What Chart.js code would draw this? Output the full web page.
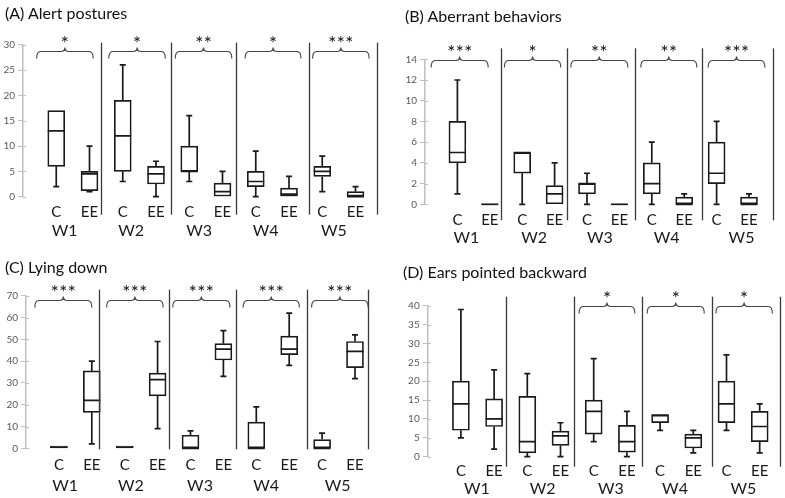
<!DOCTYPE html>
<html>
<head>
<meta charset="utf-8">
<script src="https://cdn.jsdelivr.net/npm/chart.js@4.4.1/dist/chart.umd.min.js"></script>
<style>
  body { margin: 0; background: #fff; width: 785px; height: 498px; position: relative; overflow: hidden; font-family: Lato, 'Open Sans', sans-serif; }
  .panel { position: absolute; }
  .panel canvas { display: block; }
  .titulo { position: absolute; font-size: 16px; color: #111; white-space: nowrap; z-index: 2; }
</style>
</head>
<body>
<div class="panel" style="left:0;top:0"><canvas id="cA" width="392" height="250"></canvas></div>
<div class="panel" style="left:392px;top:0"><canvas id="cB" width="393" height="250"></canvas></div>
<div class="panel" style="left:0;top:250px"><canvas id="cC" width="392" height="248"></canvas></div>
<div class="panel" style="left:392px;top:250px"><canvas id="cD" width="393" height="248"></canvas></div>

<div class="titulo" style="left:5px;top:3px">(A) Alert postures</div>
<div class="titulo" style="left:405px;top:6px">(B) Aberrant behaviors</div>
<div class="titulo" style="left:5px;top:257px">(C) Lying down</div>
<div class="titulo" style="left:403px;top:262px">(D) Ears pointed backward</div>

<script>
const SEMANAS = ['W1', 'W2', 'W3', 'W4', 'W5'];
const GRUPOS = ['C', 'EE'];

// cada caja: [min, q1, mediana, q3, max]
const ALERTA_C  = [[2, 6, 13, 17, 17], [3, 5, 12, 19, 26], [3, 5, 5, 10, 16], [0, 2, 3, 5, 9], [1, 4, 5, 6, 8]];
const ALERTA_EE = [[1, 1.2, 4.5, 5, 10], [0, 2.5, 4.5, 6, 7], [0, 0, 1, 2.7, 5], [0, 0, 0.5, 1.7, 4], [0, 0, 0, 1, 2]];
const ALERTA_SIG = ['*', '*', '**', '*', '***'];

const ABERR_C  = [[1, 4, 5, 8, 12], [0, 3, 5, 5, 5], [0, 1, 2, 2, 3], [0, 1, 2, 4, 6], [0, 2, 3, 6, 8]];
const ABERR_EE = [[0, 0, 0, 0, 0], [0, 0, 1, 1.8, 4], [0, 0, 0, 0, 0], [0, 0, 0, 0.7, 1], [0, 0, 0, 0.7, 1]];
const ABERR_SIG = ['***', '*', '**', '**', '***'];

const ECHADO_C  = [[0, 0, 0.5, 1, 1], [0, 0, 0.5, 1, 1], [0, 0, 0, 6, 8], [0, 0, 0, 12, 19], [0, 0, 0, 4, 7]];
const ECHADO_EE = [[2, 16.5, 22, 35.5, 40], [9, 24, 31.5, 34.5, 49], [33, 40.5, 45.5, 48, 54], [38, 43, 45.5, 51.5, 62], [32, 37, 44.5, 49, 52]];
const ECHADO_SIG = ['***', '***', '***', '***', '***'];

const OREJAS_C  = [[5, 7, 14, 20, 39], [0, 1, 4, 16, 22], [4, 6, 12, 15, 26], [7, 9, 11, 11, 11], [7, 9, 14, 20, 27]];
const OREJAS_EE = [[2, 8, 10, 15.3, 23], [0, 3, 5.5, 6.8, 9], [0, 1.2, 4, 8.3, 12], [1, 2.3, 5, 6, 7], [1, 4, 8, 12, 14]];
const OREJAS_SIG = [null, null, '*', '*', '*'];

const FUENTE = 'Lato, "Open Sans", sans-serif';
const ANCHO_CAJA = 17;

function intercalar(c, ee) {
  const out = [];
  c.forEach((v, i) => { out.push(v); out.push(ee[i]); });
  return out;
}

// bigotes, medianas, separadores y llaves de significancia
const cajasPlugin = {
  id: 'cajas',
  afterDatasetsDraw(chart, args, opts) {
    const ctx = chart.ctx;
    const sx = chart.scales.x;
    const sy = chart.scales.y;
    const area = chart.chartArea;
    const mitad = ANCHO_CAJA / 2;

    ctx.save();

    // marcas del eje y hacia dentro
    ctx.strokeStyle = '#bfbfbf';
    ctx.lineWidth = 1;
    sy.ticks.forEach(t => {
      const py = Math.round(sy.getPixelForValue(t.value)) + 0.5;
      ctx.beginPath();
      ctx.moveTo(area.left, py);
      ctx.lineTo(area.left + 3, py);
      ctx.stroke();
    });

    ctx.strokeStyle = '#1a1a1a';
    ctx.lineWidth = 1.7;
    opts.stats.forEach((s, i) => {
      const px = sx.getPixelForValue(i + 1);
      const [mn, q1, med, q3, mx] = s;
      ctx.beginPath();
      if (mx > q3) {
        ctx.moveTo(px, sy.getPixelForValue(q3));
        ctx.lineTo(px, sy.getPixelForValue(mx));
        ctx.moveTo(px - 3, sy.getPixelForValue(mx));
        ctx.lineTo(px + 3, sy.getPixelForValue(mx));
      }
      if (mn < q1) {
        ctx.moveTo(px, sy.getPixelForValue(q1));
        ctx.lineTo(px, sy.getPixelForValue(mn));
        ctx.moveTo(px - 3, sy.getPixelForValue(mn));
        ctx.lineTo(px + 3, sy.getPixelForValue(mn));
      }
      const ym = sy.getPixelForValue(med);
      ctx.moveTo(px - mitad, ym);
      ctx.lineTo(px + mitad, ym);
      ctx.stroke();
    });

    // separadores entre semanas
    ctx.strokeStyle = '#3a3a3a';
    ctx.lineWidth = 1.3;
    opts.divisores.forEach(v => {
      const px = Math.round(sx.getPixelForValue(v)) + 0.5;
      ctx.beginPath();
      ctx.moveTo(px, area.top + opts.divTop);
      ctx.lineTo(px, area.bottom + opts.divBot);
      ctx.stroke();
    });

    // llaves con asteriscos
    ctx.strokeStyle = '#444';
    ctx.lineWidth = 1.2;
    ctx.fillStyle = '#111';
    ctx.font = '19px ' + FUENTE;
    ctx.textAlign = 'center';
    ctx.textBaseline = 'alphabetic';
    opts.llaves.forEach((ll, i) => {
      const sig = opts.sig[i];
      if (!sig) return;
      const l = sx.getPixelForValue(ll[0]);
      const r = sx.getPixelForValue(ll[1]);
      const c = (l + r) / 2;
      const y = Math.round(area.top + opts.yLlave) + 0.5;
      ctx.beginPath();
      ctx.moveTo(l, y + 7);
      ctx.quadraticCurveTo(l, y, l + 4, y);
      ctx.lineTo(c - 4, y);
      ctx.quadraticCurveTo(c, y, c, y - 4);
      ctx.quadraticCurveTo(c, y, c + 4, y);
      ctx.lineTo(r - 4, y);
      ctx.quadraticCurveTo(r, y, r, y + 7);
      ctx.stroke();
      const n = sig.length;
      for (let k = 0; k < n; k++) {
        ctx.fillText('*', c + (k - (n - 1) / 2) * 8.5, y - 12 + 10);
      }
    });
    ctx.restore();
  }
};

function crearPanel(id, p) {
  const stats = intercalar(p.c, p.ee);
  const fx = 15;
  const fw = 16;
  // alto de cada eje x para que las etiquetas no se recorten
  const hx = (p.cx + p.cw) / 2 - p.bottom;
  const hw = p.cw + 11 - (p.bottom + hx);
  const derecha = p.eje + p.xMax * p.paso;

  return new Chart(document.getElementById(id), {
    type: 'bar',
    data: {
      datasets: [{
        data: stats.map((s, i) => ({ x: i + 1, y: [s[1], s[3]] })),
        backgroundColor: '#fff',
        borderColor: '#1a1a1a',
        borderWidth: 1.7,
        borderSkipped: false,
        barThickness: ANCHO_CAJA
      }]
    },
    options: {
      responsive: false,
      animation: false,
      devicePixelRatio: 1,
      layout: {
        padding: { top: p.top, left: 0, right: p.w - derecha, bottom: p.h - p.bottom - hx - hw }
      },
      plugins: {
        legend: { display: false },
        tooltip: { enabled: false },
        cajas: {
          stats,
          sig: p.sig,
          llaves: p.llaves,
          yLlave: p.yLlave,
          divisores: p.divisores,
          divTop: p.divTop,
          divBot: p.divBot
        }
      },
      scales: {
        x: {
          type: 'linear', min: 0, max: p.xMax, offset: false, weight: 0,
          afterFit: s => { s.height = hx; },
          afterBuildTicks: s => { s.ticks = stats.map((_, i) => ({ value: i + 1 })); },
          ticks: {
            autoSkip: false, maxRotation: 0,
            padding: p.cx - p.bottom - fx / 2,
            callback: (v, i) => GRUPOS[i % 2],
            font: { family: FUENTE, size: fx, lineHeight: 1 }, color: '#1a1a1a'
          },
          grid: { display: false, drawTicks: false, offset: false },
          border: { display: false }
        },
        xw: {
          type: 'linear', position: 'bottom', min: 0, max: p.xMax, offset: false, weight: 1,
          afterFit: s => { s.height = hw; },
          afterBuildTicks: s => { s.ticks = p.posW.map(v => ({ value: v })); },
          ticks: {
            autoSkip: false, maxRotation: 0,
            padding: p.cw - (p.bottom + hx) - fw / 2,
            callback: (v, i) => SEMANAS[i],
            font: { family: FUENTE, size: fw, lineHeight: 1 }, color: '#1a1a1a'
          },
          grid: { display: false, drawTicks: false },
          border: { display: false }
        },
        y: {
          min: 0, max: p.yMax,
          afterFit: s => { s.width = p.eje; },
          ticks: { stepSize: p.yPaso, padding: 3, font: { family: FUENTE, size: 10 }, color: '#595959' },
          grid: { drawOnChartArea: false, color: '#bfbfbf', tickLength: 5 },
          border: { color: '#bfbfbf', width: 1.5 }
        }
      }
    },
    plugins: [cajasPlugin]
  });
}

crearPanel('cA', {
  c: ALERTA_C, ee: ALERTA_EE, sig: ALERTA_SIG,
  w: 392, h: 250, eje: 23, paso: 33.25, xMax: 10.7, top: 44.7, bottom: 196.7,
  yMax: 30, yPaso: 5, cx: 212, cw: 231,
  posW: [1.25, 3.25, 5.3, 7.3, 9.35],
  divisores: [2.34, 4.44, 6.42, 8.6, 10.65], divTop: -2, divBot: 18,
  llaves: [[0.41, 2.11], [2.58, 4.28], [4.58, 6.28], [6.68, 8.36], [8.71, 10.41]], yLlave: 6
});

crearPanel('cB', {
  c: ABERR_C, ee: ABERR_EE, sig: ABERR_SIG,
  w: 393, h: 250, eje: 33, paso: 32.4, xMax: 10.8, top: 59.3, bottom: 204.3,
  yMax: 14, yPaso: 2, cx: 220, cw: 238,
  posW: [1.28, 3.37, 5.4, 7.46, 9.77],
  divisores: [2.35, 4.37, 6.48, 8.54, 10.73], divTop: -11, divBot: 16,
  llaves: [[0.19, 1.95], [2.45, 4.19], [4.5, 6.26], [6.66, 8.39], [8.74, 10.49]], yLlave: 1
});

crearPanel('cC', {
  c: ECHADO_C, ee: ECHADO_EE, sig: ECHADO_SIG,
  w: 392, h: 248, eje: 26, paso: 32.9, xMax: 10.75, top: 45.7, bottom: 198.3,
  yMax: 70, yPaso: 10, cx: 215, cw: 236,
  posW: [1.19, 3.19, 5.29, 7.3, 9.47],
  divisores: [2.22, 4.35, 6.38, 8.54, 10.4], divTop: -6, divBot: 1,
  llaves: [[0.27, 2.0], [2.45, 4.17], [4.46, 6.2], [6.6, 8.31], [8.68, 10.4]], yLlave: 4.3
});

crearPanel('cD', {
  c: OREJAS_C, ee: OREJAS_EE, sig: OREJAS_SIG,
  w: 393, h: 248, eje: 35.7, paso: 33.2, xMax: 10.65, top: 55.7, bottom: 206.7,
  yMax: 40, yPaso: 5, cx: 221.5, cw: 238.5,
  posW: [1.48, 3.46, 5.52, 7.45, 9.51],
  divisores: [2.35, 4.41, 6.45, 8.56, 10.61], divTop: -9, divBot: 10,
  llaves: [null, null, [4.56, 6.24], [6.61, 8.33], [8.68, 10.38]], yLlave: 0.3
});
</script>
</body>
</html>
